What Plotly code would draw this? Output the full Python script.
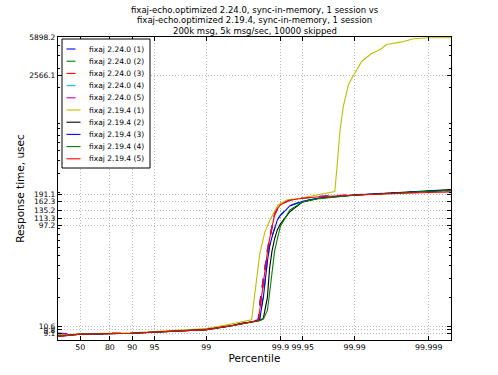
import numpy as np
import plotly.graph_objects as go

# ---------------- data ----------------
title_lines = ["fixaj-echo.optimized 2.24.0, sync-in-memory, 1 session vs",
               "fixaj-echo.optimized 2.19.4, sync-in-memory, 1 session",
               "200k msg, 5k msg/sec, 10000 skipped"]

percentiles = [0, 50, 90, 95, 99, 99.5, 99.8, 99.81, 99.83, 99.85, 99.86, 99.87,
               99.88, 99.89, 99.9, 99.925, 99.95, 99.97, 99.99, 99.999, 99.9995]

v_2240_1 = [9.1, 8.95, 9.15, 9.35, 9.9, 10.7, 12.2, 18, 32, 57, 74, 96, 124, 141, 154, 169, 176, 182, 189, 203, 208]
v_2240_2 = [9.0, 8.95, 9.15, 9.35, 9.9, 10.7, 12.0, 12.5, 21, 45, 62, 77, 94, 110, 122, 149, 165, 176, 188, 204, 209]
v_2240_3 = [9.0, 8.95, 9.15, 9.35, 9.9, 10.7, 12.0, 15, 28, 52, 70, 92, 120, 138, 152, 168, 176, 182, 189, 203, 207]
v_2240_4 = [9.0, 8.95, 9.15, 9.35, 9.9, 10.7, 12.0, 16, 30, 55, 73, 95, 123, 140, 153, 169, 176, 182, 189, 203, 208]
v_2240_5 = [9.1, 8.95, 9.15, 9.35, 9.9, 10.7, 12.1, 17, 31, 56, 74, 96, 124, 141, 154, 170, 177, 183, 190, 204, 209]

v_2194_2 = [8.5, 8.9, 9.1, 9.3, 9.85, 10.6, 11.9, 12.1, 12.6, 20, 38, 55, 72, 88, 100, 130, 162, 175, 188, 205, 212]
v_2194_3 = [8.6, 8.9, 9.1, 9.3, 9.85, 10.6, 12.0, 12.5, 20, 44, 61, 75, 92, 109, 120, 148, 164, 176, 188, 204, 209]
v_2194_4 = [8.6, 8.9, 9.1, 9.3, 9.85, 10.6, 11.9, 12.0, 12.4, 15, 22, 34, 55, 72, 95, 135, 162, 174, 187, 204, 207]
v_2194_5 = [8.5, 8.9, 9.1, 9.3, 9.85, 10.6, 12.0, 15, 29, 54, 72, 94, 122, 139, 152, 168, 175, 181, 188, 199, 201]

percentiles_2194_1 = [0, 50, 90, 95, 99, 99.5, 99.755, 99.81, 99.838, 99.861, 99.893, 99.918,
                      99.948, 99.97, 99.9815, 99.9826, 99.9843, 99.9858, 99.9879, 99.9896,
                      99.992, 99.9941, 99.9955, 99.9963, 99.9976, 99.9984, 99.999, 99.9995]
v_2194_1 = [8.7, 9.0, 9.2, 9.45, 10.1, 11.0, 12.2, 52, 84, 109, 152, 169, 176, 190, 203,
            327, 788, 1314, 2116, 2566.1, 3530, 4177, 4560, 5090, 5357, 5770, 5898.2, 5898.2]

series = [
    ("fixaj 2.24.0 (1)", percentiles, v_2240_1, "#0000ff", "dash"),
    ("fixaj 2.24.0 (2)", percentiles, v_2240_2, "#008000", "dash"),
    ("fixaj 2.24.0 (3)", percentiles, v_2240_3, "#ff0000", "dash"),
    ("fixaj 2.24.0 (4)", percentiles, v_2240_4, "#00bfbf", "dash"),
    ("fixaj 2.24.0 (5)", percentiles, v_2240_5, "#bf00bf", "dash"),
    ("fixaj 2.19.4 (1)", percentiles_2194_1, v_2194_1, "#bfbf00", "solid"),
    ("fixaj 2.19.4 (2)", percentiles, v_2194_2, "#000000", "solid"),
    ("fixaj 2.19.4 (3)", percentiles, v_2194_3, "#0000ff", "solid"),
    ("fixaj 2.19.4 (4)", percentiles, v_2194_4, "#008000", "solid"),
    ("fixaj 2.19.4 (5)", percentiles, v_2194_5, "#ff0000", "solid"),
]

x_tick_pct = [50, 80, 90, 95, 99, 99.9, 99.95, 99.99, 99.999]
x_tick_text = ["50", "80", "90", "95", "99", "99.9", "99.95", "99.99", "99.999"]
y_tick_vals = [9.1, 9.8, 10.6, 97.2, 113.3, 135.2, 162.3, 191.1, 2566.1, 5898.2]
y_tick_text = ["9.1", "9.8", "10.6", "97.2", "113.3", "135.2", "162.3", "191.1", "2566.1", "5898.2"]


def pct_to_x(p):
    p = np.asarray(p, dtype=float)
    return np.log10(100.0 / (100.0 - p))


FONT = "DejaVu Sans"
W, H = 498, 375
ML, MR, MT, MB = 58, 47, 37, 35
PW, PH = W - ML - MR, H - MT - MB

fig = go.Figure()
for name, p, v, color, dash in series:
    fig.add_trace(go.Scatter(x=pct_to_x(p), y=v, mode="lines", name=name,
                             line=dict(color=color, width=1.1, dash=dash),
                             showlegend=False))


def px_x(px):
    return (px - ML) / PW


def px_y(py):
    return (H - MB - py) / PH


# manual matplotlib-style legend
shapes = [dict(type="rect", xref="paper", yref="paper",
               x0=px_x(62), x1=px_x(150), y0=px_y(168), y1=px_y(39),
               line=dict(color="black", width=1), fillcolor="white", layer="above")]
annotations = []
for i, (name, p, v, color, dash) in enumerate(series):
    yy = 49 + 12.2 * i
    shapes.append(dict(type="line", xref="paper", yref="paper",
                       x0=px_x(66.5), x1=px_x(80.5), y0=px_y(yy), y1=px_y(yy),
                       line=dict(color=color, width=1.1, dash="dash" if dash == "dash" else "solid"),
                       layer="above"))
    annotations.append(dict(xref="paper", yref="paper", x=px_x(87), y=px_y(yy),
                            xanchor="left", yanchor="middle", text=name, showarrow=False,
                            font=dict(family=FONT, size=7.5, color="black")))

# title lines
for i, line in enumerate(title_lines):
    annotations.append(dict(xref="paper", yref="paper", x=0.5, y=px_y(10 + 10.5 * i),
                            xanchor="center", yanchor="middle", text=line, showarrow=False,
                            font=dict(family=FONT, size=8.5, color="black")))

minor_y = [8, 9, 20, 30, 40, 50, 60, 70, 80, 90, 200, 300, 400, 500, 600, 700, 800, 900,
           2000, 3000, 4000, 5000]

fig.update_layout(
    width=W, height=H,
    margin=dict(l=ML, r=MR, t=MT, b=MB),
    paper_bgcolor="white", plot_bgcolor="white",
    font=dict(family=FONT, size=8, color="black"),
    shapes=shapes,
    annotations=annotations,
)

GRID = dict(showgrid=True, gridcolor="#b8b8b8", griddash="1px,2px", gridwidth=1)

fig.update_xaxes(
    range=[0, 5.3], tickmode="array", tickvals=pct_to_x(x_tick_pct), ticktext=x_tick_text,
    tickangle=0, **GRID,
    showline=True, linecolor="black", linewidth=1.2, mirror="allticks",
    ticks="inside", ticklen=4, tickcolor="black", zeroline=False,
    tickfont=dict(family=FONT, size=7.8),
    title=dict(text="Percentile", font=dict(family=FONT, size=10.5), standoff=2),
)
fig.update_yaxes(
    type="log", range=[0.895, 3.778], tickmode="array", tickvals=y_tick_vals, ticktext=y_tick_text,
    **GRID,
    showline=True, linecolor="black", linewidth=1.2, mirror="allticks",
    ticks="inside", ticklen=4, tickcolor="black", zeroline=False,
    tickfont=dict(family=FONT, size=7.5),
    minor=dict(tickmode="array", tickvals=minor_y, ticks="inside", ticklen=2,
               tickcolor="black", showgrid=False),
    title=dict(text="Response time, usec", font=dict(family=FONT, size=10.5), standoff=2),
)

fig.write_html("out.html", config={"displayModeBar": False},
               post_script="document.body.style.margin='0';")
